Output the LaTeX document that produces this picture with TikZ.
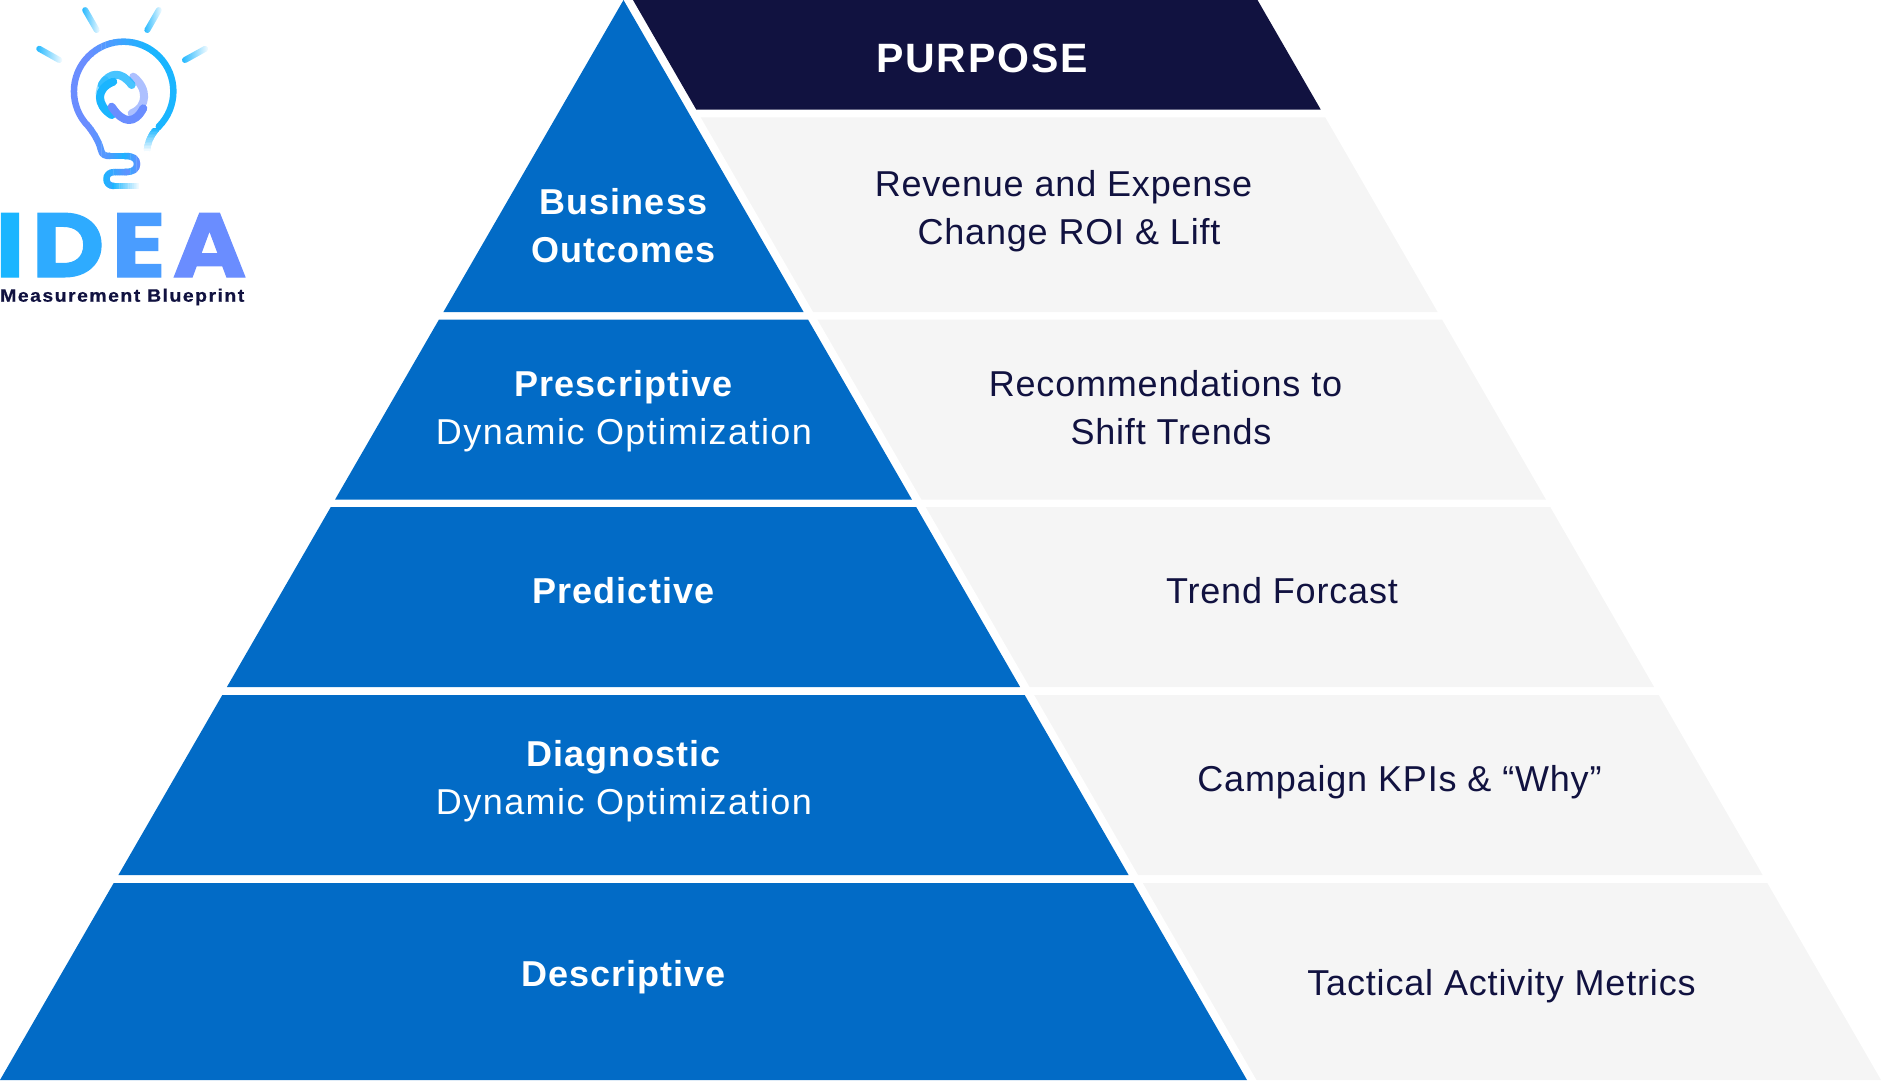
\documentclass[tikz,border=0pt]{standalone}
\usepackage{fontspec}
\setmainfont{Liberation Sans}
\newfontfamily\ideafont[BoldFeatures={FakeStretch=1.1,FakeBold=1.2}]{Poppins}
\newfontfamily\tagfont[BoldFeatures={FakeStretch=1.08,FakeBold=0.6}]{Liberation Sans}
\usetikzlibrary{calc}

\definecolor{pyrblue}{HTML}{026BC6}
\definecolor{pyrnavy}{HTML}{111240}
\definecolor{pyrgray}{HTML}{F5F5F5}
\definecolor{logocyan}{HTML}{1AB5FF}
\definecolor{logoperi}{HTML}{6A8DFF}

\newcommand{\thinline}[1]{{\addfontfeature{LetterSpace=4}#1}}

\tikzset{
  blueband/.style={fill=pyrblue},
  grayband/.style={fill=pyrgray},
  bluetext/.style={color=white,align=center,anchor=base,font=\fontsize{36}{48}\selectfont\addfontfeature{LetterSpace=2.8}},
  graytext/.style={color=pyrnavy,align=center,anchor=base,font=\fontsize{36}{48}\selectfont\addfontfeature{LetterSpace=2.3}},
  logoline/.style={line width=6.5pt,line cap=round,line join=round},
  knotline/.style={logoline,line width=8pt},
  raybar/.style={left color=logocyan,right color=white,rounded corners=3pt},
}

% gradient along x (or along another axis, last argument): path, colours, from, to, clip angle
\newcommand{\gradstroke}[6]{%
  \foreach \k in {0,...,15}{%
    \pgfmathsetmacro\pct{100-\k/15*100}%
    \pgfmathsetmacro\lft{#4+\k*(#5-#4)/16}%
    \pgfmathsetmacro\rgt{\lft+(#5-#4)/16+0.4}%
    \begin{scope}
      \clip[rotate=#6] (\lft,-3000) rectangle (\rgt,3000);
      \draw[logoline,color=#2!\pct!#3] #1;
    \end{scope}
  }%
}

\begin{document}
\begin{tikzpicture}[x=1pt,y=-1pt]
\useasboundingbox (0,0) rectangle (1881,1080);
% Drawing blue bands
\fill[blueband] (623.5,0) -- (803.6,312) -- (443.4,312) -- cycle;
\fill[blueband] (439.0,319.5) -- (808.0,319.5) -- (911.9,499.5) -- (335.1,499.5) -- cycle;
\fill[blueband] (330.8,507) -- (916.2,507) -- (1020.1,687) -- (226.9,687) -- cycle;
\fill[blueband] (222.3,695) -- (1024.7,695) -- (1128.6,875) -- (118.4,875) -- cycle;
\fill[blueband] (113.7,883) -- (1133.3,883) -- (1247,1080) -- (0,1080) -- cycle;
% Drawing purpose header and gray bands
\fill[color=pyrnavy] (633,0) -- (1257.5,0) -- (1320.7,109.5) -- (696.2,109.5) -- cycle;
\fill[grayband] (700.7,117.3) -- (1325.2,117.3) -- (1437.6,312) -- (813.1,312) -- cycle;
\fill[grayband] (817.4,319.5) -- (1442,319.5) -- (1545.9,499.5) -- (921.4,499.5) -- cycle;
\fill[grayband] (925.7,507) -- (1550.2,507) -- (1654.1,687) -- (1029.6,687) -- cycle;
\fill[grayband] (1034.2,695) -- (1658.7,695) -- (1762.6,875) -- (1138.1,875) -- cycle;
\fill[grayband] (1142.8,883) -- (1767.3,883) -- (1881,1080) -- (1256.5,1080) -- cycle;
% Labels of the blue side
\node[bluetext] (business) at (624,262.3) {\textbf{Business}\\\textbf{Outcomes}};
\node[bluetext] (prescriptive) at (624,444.5) {\textbf{Prescriptive}\\\thinline{Dynamic Optimization}};
\node[bluetext] (predictive) at (624,603.5) {\textbf{Predictive}};
\node[bluetext] (diagnostic) at (624,814.5) {\textbf{Diagnostic}\\\thinline{Dynamic Optimization}};
\node[bluetext] (descriptive) at (624,986.5) {\textbf{Descriptive}};
% Labels of the gray side
\node[color=white,anchor=base,font=\fontsize{41}{48}\selectfont\bfseries\addfontfeature{LetterSpace=4.6}] (purpose) at (982,72.7) {PURPOSE};
\node[graytext] (revenue) at (1069,244) {Revenue and Expense\hspace*{11pt}\\Change ROI \& Lift};
\node[graytext] (recommend) at (1171,444.5) {Recommendations to\hspace*{11pt}\\Shift Trends};
\node[graytext] (trend) at (1282,603.5) {Trend Forcast};
\node[graytext] (campaign) at (1399.5,791) {Campaign KPIs \& “Why”};
\node[graytext] (tactical) at (1501.5,995) {Tactical Activity Metrics};
% Drawing the logo: rays
\begin{scope}[shift={(96.7,30)},rotate=120]
\shade[raybar] (-3,-3) rectangle (26,3);
\end{scope}
\begin{scope}[shift={(147.3,30)},rotate=60]
\shade[raybar] (-3,-3) rectangle (26,3);
\end{scope}
\begin{scope}[shift={(59.3,60)},rotate=150.7]
\shade[raybar] (-3,-3) rectangle (26,3);
\end{scope}
\begin{scope}[shift={(185,60)},rotate=29]
\shade[raybar] (-3,-3) rectangle (26,3);
\end{scope}
% Logo: glass, fading end and cord
\gradstroke{(158.8,126.5) .. controls (153,132) and (148,140) .. (147,150)}{logocyan}{white}{128}{153}{-90}
\gradstroke{(158.8,126.5) arc[start angle=-45,delta angle=270,radius=49.7pt] .. controls (95,135) and (99,142) .. (101,150) .. controls (102,155) and (105,156) .. (110,156)}{logoperi}{logocyan}{85}{150}{0}
\begin{scope}
\clip (60,30) rectangle (85,140);
\draw[logoline,color=logoperi] (158.8,126.5) arc[start angle=-45,delta angle=270,radius=49.7pt];
\end{scope}
\begin{scope}
\clip (149.9,30) rectangle (180,140);
\draw[logoline,color=logocyan] (158.8,126.5) arc[start angle=-45,delta angle=270,radius=49.7pt];
\end{scope}
\gradstroke{(108,156) -- (127,156)}{logoperi}{logocyan}{98}{128}{0}
\gradstroke{(125,156) .. controls (134,156) and (137,159) .. (137,164) .. controls (137,169) and (134,172) .. (125,172)}{logocyan}{logoperi}{122}{141}{0}
\gradstroke{(127,172) -- (115,172) .. controls (109,172) and (106.5,175) .. (106.5,179) .. controls (106.5,183) and (109,186) .. (114,186)}{logocyan}{logoperi}{102}{132}{0}
\gradstroke{(114,186) -- (140,186)}{logocyan}{white}{112}{141}{0}
% Logo: knot in the glass
\draw[knotline,color=logoperi,opacity=0.55] (131.7,113.3) .. controls (148,106.7) and (148,88.3) .. (133.3,76.7);
\draw[knotline,color=logocyan,opacity=0.45] (111.7,115) .. controls (97,105) and (97,90) .. (105,80);
\draw[knotline,color=logocyan,opacity=0.8] (131.7,85) .. controls (121.7,71.3) and (110,71.3) .. (101.7,85);
\draw[knotline,color=logocyan] (113.3,81.7) .. controls (95.8,88.3) and (95.8,105) .. (111.7,115);
\draw[knotline,color=logoperi] (111.7,106.7) .. controls (123.3,124.2) and (135,124.2) .. (143.3,108.3);
% Logo: name
\node[anchor=base west,inner sep=0pt,text depth=0pt,text height=64pt,font=\ideafont\fontsize{91}{91}\selectfont\bfseries] (idea) at (0,277) {\hspace*{-5pt}\textcolor{logocyan}{I}\kern7pt\textcolor{logocyan!75!logoperi}{D}\kern7pt\textcolor{logocyan!40!logoperi}{E}\kern7pt\textcolor{logoperi}{A}};
\node[anchor=base west,inner sep=0pt,color=pyrnavy,font=\tagfont\fontsize{18}{18}\selectfont\bfseries\addfontfeature{LetterSpace=8.2}] (blueprint) at (0,301.7) {Measurement Blueprint};
\end{tikzpicture}
\end{document}
